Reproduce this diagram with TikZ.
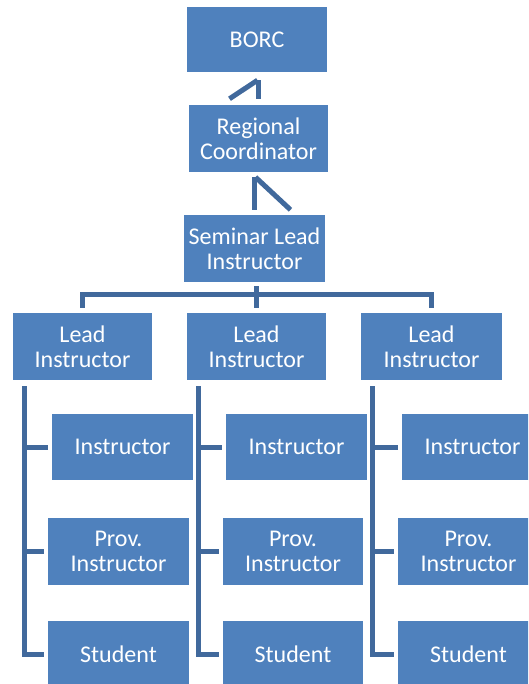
\documentclass[tikz,border=0pt]{standalone}
\usepackage{fontspec}
\setmainfont{Carlito}
\usetikzlibrary{calc}
\definecolor{boxblue}{HTML}{4F81BD}
\definecolor{linkblue}{HTML}{41699C}
\begin{document}
\begin{tikzpicture}[x=1pt,y=-1pt,
  box/.style={fill=boxblue, text=white, inner sep=0pt, align=center,
    font=\fontsize{24}{25}\selectfont, minimum width=141pt, minimum height=67pt},
  link/.style={draw=linkblue, line width=5pt, line join=miter},
  tick/.style={link, shorten >=4pt}]
\useasboundingbox (0,0) rectangle (528,684);
\fill[white] (0,0) rectangle (528,684);
\clip (0,0) rectangle (528,684);

% top of the chain
\node[box, minimum width=140pt, minimum height=65pt] (borc) at (257,39.5) {BORC};
\node[box, minimum width=139pt] (reg) at (258.5,138.5) {Regional\\Coordinator};
\node[box] (sem) at (254.5,248.5) {Seminar Lead\\Instructor};

% lead instructors
\node[box, minimum width=139pt] (lead1) at (82.5,346.5) {Lead\\Instructor};
\node[box, minimum width=139pt] (lead2) at (256.5,346.5) {Lead\\Instructor};
\node[box] (lead3) at (431.5,346.5) {Lead\\Instructor};

% column 1
\node[box, minimum height=66pt] (ins1) at (122.5,447) {Instructor};
\node[box] (prov1) at (118.5,551.5) {Prov.\\Instructor};
\node[box] (stu1) at (118.5,654.5) {Student};
% column 2
\node[box, minimum height=66pt] (ins2) at (296.5,447) {Instructor};
\node[box, minimum width=140pt] (prov2) at (293,551.5) {Prov.\\Instructor};
\node[box, minimum width=140pt] (stu2) at (293,654.5) {Student};
% column 3
\node[box, minimum height=66pt] (ins3) at (472.5,447) {Instructor};
\node[box] (prov3) at (468.5,551.5) {Prov.\\Instructor};
\node[box] (stu3) at (468.5,654.5) {Student};

% links up the chain
\draw[link] ($(reg.north)+(0,-6)$) -- ($(reg.north |- borc.south)+(0,8)$);
\draw[link] ($(reg.north)+(-29,-6)$) -- ($(reg.north |- borc.south)+(-1,8)$);
\draw[link] ($(sem.north)+(0,-5)$) -- ($(sem.north |- reg.south)+(0,5)$);
\draw[link] ($(sem.north |- reg.south)+(1,5)$) -- ($(sem.north)+(36,-5)$);

% bus to the lead instructors
\draw[link] ($(lead2.north |- sem.south)+(0,4)$) -- ($(lead2.north)+(0,-5)$);
\draw[link] ($(lead1.north)+(0,-5)$) -- ($(lead1.north)+(0,-18)$)
  -- ($(lead3.north)+(0,-18)$) -- ($(lead3.north)+(0,-5)$);

% columns under each lead instructor
\foreach \i in {1,2,3} {
  \coordinate (col\i) at ($(lead\i.south west)+(12,6)$);
  \draw[tick] (col\i) |- (stu\i.west);
  \draw[tick] (col\i |- ins\i.west) -- (ins\i.west);
  \draw[tick] (col\i |- prov\i.west) -- (prov\i.west);
}
\end{tikzpicture}
\end{document}
